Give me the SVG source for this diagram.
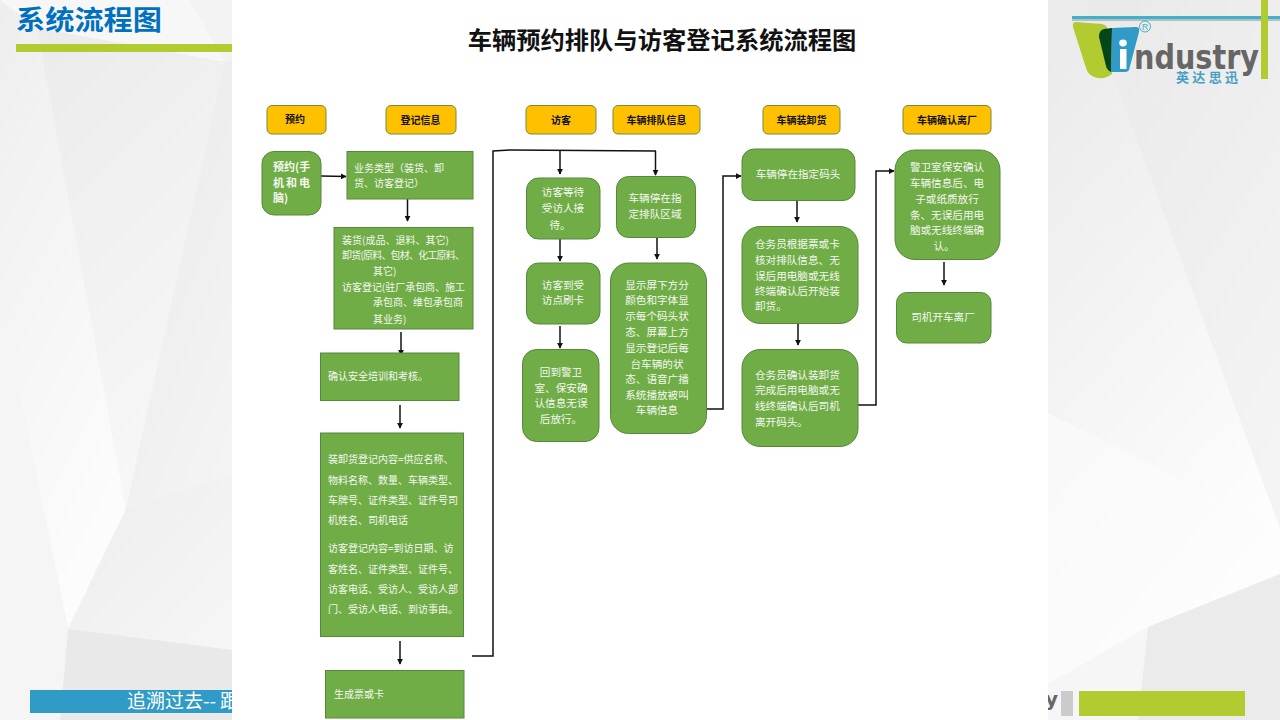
<svg xmlns="http://www.w3.org/2000/svg" width="1280" height="720" viewBox="0 0 1280 720">
<style>
text{font-family:"Noto Sans CJK SC","Liberation Sans",sans-serif}
.hd rect{fill:#ffc000;stroke:#6d8f3f;stroke-width:1}
.hd text{font-size:10px;font-weight:700;fill:#111;text-anchor:middle}
.n rect{fill:#70ad47;stroke:#56883a;stroke-width:1}
.n text{font-size:10px;fill:#f4f8f0}
.c text{text-anchor:middle;font-size:10.6px}
.l text{font-size:10.6px}
#connectors path{fill:none;stroke:#111;stroke-width:1.5;marker-end:url(#ah)}
#connectors path.p{marker-end:none}
</style>
<defs>
<marker id="ah" viewBox="0 0 8 8" refX="7" refY="4" markerWidth="6" markerHeight="6" markerUnits="userSpaceOnUse" orient="auto"><path d="M0 0L8 4L0 8z" fill="#111"/></marker>
<linearGradient id="g1" x1="0" y1="0" x2="0.4" y2="1"><stop offset="0" stop-color="#ebebeb"/><stop offset="1" stop-color="#f7f7f7"/></linearGradient>
<linearGradient id="g2" x1="0" y1="0" x2="0.4" y2="1"><stop offset="0" stop-color="#eeeeee"/><stop offset="1" stop-color="#fcfcfc"/></linearGradient>
<linearGradient id="g3" x1="0.2" y1="0" x2="0.8" y2="1"><stop offset="0" stop-color="#eaeaea"/><stop offset="1" stop-color="#f4f4f4"/></linearGradient>
<linearGradient id="g4" x1="0.2" y1="0" x2="0.6" y2="1"><stop offset="0" stop-color="#ebebeb"/><stop offset="1" stop-color="#ffffff"/></linearGradient>
<linearGradient id="g5" x1="0" y1="0" x2="1" y2="1"><stop offset="0" stop-color="#ededed"/><stop offset="1" stop-color="#f6f6f6"/></linearGradient>
</defs>
<g id="background">
<rect width="1280" height="720" fill="#f0f0f0"/>
<polygon points="0,0 190,0 225,62 37,28" fill="#f7f7f7"/>
<polygon points="190,0 232,0 232,60 225,62" fill="#f3f3f3"/>
<polygon points="0,0 37,28 126,509 68,629 0,300" fill="url(#g2)"/>
<polygon points="37,28 225,62 126,509" fill="url(#g1)"/>
<polygon points="225,62 232,60 232,475 126,509" fill="url(#g3)"/>
<polygon points="126,509 232,475 232,650 68,629" fill="url(#g5)"/>
<polygon points="68,629 232,650 232,720 60,720" fill="#e9e9e9"/>
<polygon points="0,300 68,629 60,720 0,720" fill="#f5f5f5"/>
<polygon points="1048,0 1085,0 1280,528 1280,574 1148,627 1048,684" fill="url(#g4)"/>
<polygon points="1085,0 1280,0 1280,528" fill="url(#g3)"/>
<polygon points="1048,413 1280,528 1280,574 1148,627 1048,684" fill="#fbfbfb" opacity="0.6"/>
<polygon points="1148,627 1280,574 1280,720 1138,720" fill="#ebebeb"/>
<polygon points="1048,684 1148,627 1138,720 1048,720" fill="#f6f6f6"/>
</g>
<g id="page-title">
<text x="16" y="30" font-size="27" font-weight="700" fill="#0070c0" textLength="146" lengthAdjust="spacingAndGlyphs">系统流程图</text>
<rect x="16" y="44" width="216" height="8" fill="#b1cb30"/>
</g>
<g id="footer">
<rect x="30" y="690" width="202" height="23" fill="#2f9bc6"/>
<text x="127" y="708" font-size="19" fill="#fff">追溯过去--<tspan x="220">跟</tspan></text>
<text x="1045" y="706" font-size="20" font-weight="700" fill="#666" style="font-family:'DejaVu Sans',sans-serif">y</text>
<rect x="1061" y="691" width="12" height="25" fill="#cbcbcb"/>
<rect x="1079" y="691" width="166" height="25" fill="#b1cb30"/>
</g>
<g id="logo">
<rect x="1072" y="16" width="208" height="3.500" fill="#45afc9"/>
<rect x="1072" y="19.500" width="208" height="1.500" fill="#bbb"/>
<rect x="1261" y="0" width="7" height="79" fill="#b1cb30"/>
<path d="M1076 22L1102 24Q1108 25 1108 32L1112 74Q1106 79 1098 78Q1088 76 1086 68L1073 27Q1072 22 1076 22z" fill="#b1cb30"/>
<path d="M1112 28L1136 27Q1140 27 1139 32L1129 70Q1128 72 1125 72L1111 72Z" fill="#2f9bc6"/>
<path d="M1112 28L1111 72Q1107 70 1106 66L1099 37Q1099 30 1104 29Z" fill="#05451a"/>
<ellipse cx="1123" cy="43" rx="3.800" ry="3.400" fill="#fff"/>
<rect x="1120" y="49" width="6.500" height="20" fill="#fff"/>
<circle cx="1145" cy="26.500" r="5.500" fill="none" stroke="#45afc9" stroke-width="1"/>
<text x="1145" y="29.500" font-size="8.500" fill="#45afc9" text-anchor="middle" style="font-family:'Liberation Sans',sans-serif">R</text>
<text x="1134" y="69" font-size="33" font-weight="700" fill="#666" textLength="125" lengthAdjust="spacingAndGlyphs" style="font-family:'DejaVu Sans',sans-serif">ndustry</text>
<text x="1176" y="82" font-size="13" font-weight="700" fill="#45a0c4" textLength="62" lengthAdjust="spacing">英达思迅</text>
</g>
<rect id="panel" x="232" y="0" width="816" height="720" fill="#fff"/>
<text id="title" x="662" y="49" font-size="24.300" font-weight="700" fill="#111" text-anchor="middle">车辆预约排队与访客登记系统流程图</text>
<g id="connectors">
<path class="p" d="M472 656H493V151L510 150L656 151"/>
<path d="M560 151V174"/>
<path d="M655.500 151V175"/>
<path d="M321 176L346 176.500"/>
<path d="M407.500 199V221"/>
<path d="M401 332V355"/>
<path d="M400 405V428"/>
<path d="M400 641V664"/>
<path d="M560 239V261"/>
<path d="M560 326V348"/>
<path d="M657 237V259"/>
<path d="M706 409H723V176H741"/>
<path d="M797 200V222"/>
<path d="M798 323V345"/>
<path d="M858 405H876V171H894"/>
<path d="M944 262V285"/>
</g>
<g id="h1" class="hd"><rect x="267" y="105.500" width="59" height="28.500" rx="5"/><text x="295" y="122.500">预约</text></g>
<g id="h2" class="hd"><rect x="386" y="105.500" width="70" height="28.500" rx="5"/><text x="420.500" y="123.500">登记信息</text></g>
<g id="h3" class="hd"><rect x="526" y="105.500" width="70" height="28.500" rx="5"/><text x="561" y="123.500">访客</text></g>
<g id="h4" class="hd"><rect x="613" y="105.500" width="87" height="28.500" rx="5"/><text x="656.500" y="123.500">车辆排队信息</text></g>
<g id="h5" class="hd"><rect x="763" y="105.500" width="77" height="28.500" rx="5"/><text x="801.500" y="123.500">车辆装卸货</text></g>
<g id="h6" class="hd"><rect x="903" y="105.500" width="88" height="28.500" rx="5"/><text x="947" y="123.500">车辆确认离厂</text></g>
<g id="n-reserve" class="n"><rect x="262" y="151.500" width="59" height="63.500" rx="12"/><text x="273" y="171" style="font-size:11px;font-weight:700">预约(手</text><text x="273" y="187" style="font-size:11px;font-weight:700" textLength="37">机和电</text><text x="273" y="202" style="font-size:11px;font-weight:700">脑)</text></g>
<g id="n-type" class="n"><rect x="347" y="151.500" width="126" height="47.500"/><text x="354" y="171.500">业务类型（装货、卸</text><text x="354" y="187">货、访客登记）</text></g>
<g id="n-kinds" class="n"><rect x="334" y="227.500" width="139" height="101.500"/><text x="342" y="244">装货(成品、退料、其它)</text><text x="342" y="259" textLength="123">卸货(原料、包材、化工原料、</text><text x="373" y="275">其它)</text><text x="342" y="291" textLength="123">访客登记(驻厂承包商、施工</text><text x="373" y="306">承包商、维包承包商</text><text x="373" y="323">其业务)</text></g>
<g id="n-safety" class="n"><rect x="320.500" y="353" width="138.500" height="47.500"/><text x="328" y="380">确认安全培训和考核。</text></g>
<g id="n-content" class="n"><rect x="320.500" y="433" width="143" height="203.500"/><text x="328" y="463">装卸货登记内容=供应名称、</text><text x="328" y="484">物料名称、数量、车辆类型、</text><text x="328" y="504">车牌号、证件类型、证件号司</text><text x="328" y="524">机姓名、司机电话</text><text x="328" y="552">访客登记内容=到访日期、访</text><text x="328" y="573">客姓名、证件类型、证件号、</text><text x="328" y="593">访客电话、受访人、受访人部</text><text x="328" y="613">门、受访人电话、到访事由。</text></g>
<g id="n-card" class="n"><rect x="325.500" y="670.500" width="138.500" height="47.500"/><text x="334" y="698">生成票或卡</text></g>
<g id="n-wait" class="n c"><rect x="526.500" y="178" width="73.500" height="61" rx="12"/><text x="563" y="196">访客等待</text><text x="563" y="212">受访人接</text><text x="560" y="229">待。</text></g>
<g id="n-swipe" class="n c"><rect x="526.500" y="263" width="73.500" height="61" rx="12"/><text x="563" y="289">访客到受</text><text x="563" y="304">访点刷卡</text></g>
<g id="n-back" class="n c"><rect x="522.500" y="349.500" width="76.500" height="92" rx="14"/><text x="561" y="376">回到警卫</text><text x="561" y="392">室、保安确</text><text x="561" y="407">认信息无误</text><text x="561" y="423">后放行。</text></g>
<g id="n-queue" class="n c"><rect x="616.500" y="176.500" width="79" height="61" rx="12"/><text x="655" y="202">车辆停在指</text><text x="655" y="218">定排队区域</text></g>
<g id="n-screen" class="n c"><rect x="610.500" y="263" width="96" height="170.500" rx="18"/><text x="657" y="289">显示屏下方分</text><text x="657" y="304">颜色和字体显</text><text x="657" y="320">示每个码头状</text><text x="657" y="336">态、屏幕上方</text><text x="657" y="352">显示登记后每</text><text x="657" y="368">台车辆的状</text><text x="657" y="383">态、语音广播</text><text x="657" y="399">系统播放被叫</text><text x="657" y="414">车辆信息</text></g>
<g id="n-dock" class="n c"><rect x="742" y="149" width="113" height="51.500" rx="12"/><text x="798" y="178">车辆停在指定码头</text></g>
<g id="n-check" class="n l"><rect x="742" y="226.500" width="116" height="97" rx="18"/><text x="755" y="248">仓务员根据票或卡</text><text x="755" y="264">核对排队信息、无</text><text x="755" y="280">误后用电脑或无线</text><text x="755" y="295">终端确认后开始装</text><text x="755" y="310">卸货。</text></g>
<g id="n-finish" class="n l"><rect x="742" y="349.500" width="116" height="97" rx="18"/><text x="755" y="379">仓务员确认装卸货</text><text x="755" y="394">完成后用电脑或无</text><text x="755" y="410">线终端确认后司机</text><text x="755" y="426">离开码头。</text></g>
<g id="n-guard" class="n c"><rect x="895" y="150" width="105" height="109.500" rx="20"/><text x="947" y="171">警卫室保安确认</text><text x="947" y="187">车辆信息后、电</text><text x="947" y="203">子或纸质放行</text><text x="947" y="219">条、无误后用电</text><text x="947" y="234">脑或无线终端确</text><text x="944" y="250">认。</text></g>
<g id="n-leave" class="n c"><rect x="896.500" y="292.500" width="94.500" height="50.500" rx="10"/><text x="943" y="321">司机开车离厂</text></g>
</svg>
